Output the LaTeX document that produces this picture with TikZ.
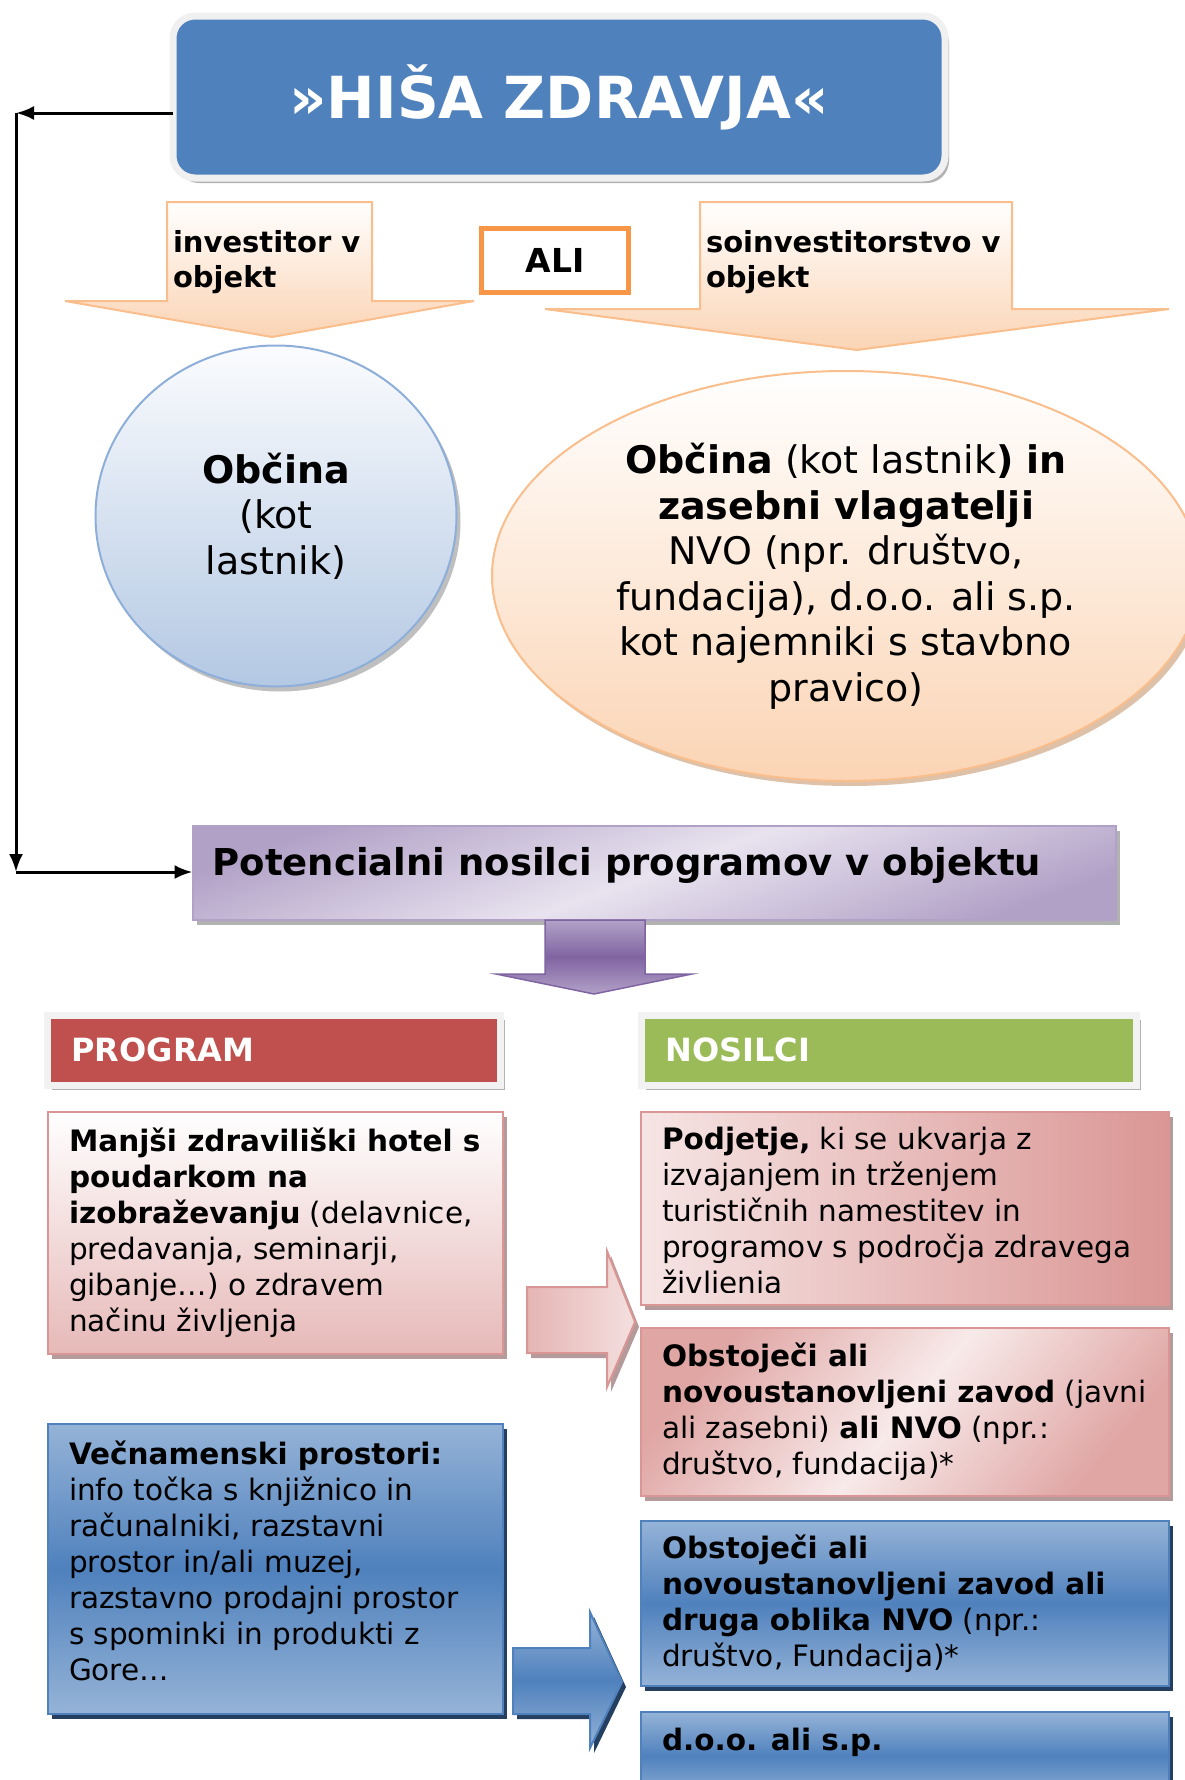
\documentclass[tikz,border=0pt]{standalone}
\usepackage{fontspec}
\setmainfont{DejaVu Sans}
\usepackage{xcolor}
\usepackage{tikz}
\usetikzlibrary{arrows.meta}
\usetikzlibrary{calc}
\usetikzlibrary{positioning}
\usetikzlibrary{shadows}
\usetikzlibrary{shapes.geometric}

\definecolor{titleblue}{HTML}{4F81BD}
\definecolor{peach}{HTML}{FBD4B4}
\definecolor{peachline}{HTML}{F9BE8C}
\definecolor{aliorange}{HTML}{F79646}
\definecolor{circtop}{HTML}{FBFCFE}
\definecolor{circbot}{HTML}{B3C8E3}
\definecolor{circline}{HTML}{8EAEDA}
\definecolor{purpledark}{HTML}{B2A1C7}
\definecolor{purplelight}{HTML}{E8E3EF}
\definecolor{purplearrow}{HTML}{8064A2}
\definecolor{progred}{HTML}{C0504D}
\definecolor{nosgreen}{HTML}{9BBB59}
\definecolor{pinkbot}{HTML}{E6B9B8}
\definecolor{pinkdark}{HTML}{DA9694}
\definecolor{pinkline}{HTML}{D99694}
\definecolor{pinkshadow}{HTML}{B49A9A}
\definecolor{bluelight}{HTML}{95B3D7}
\definecolor{blueshadow}{HTML}{243F60}

\begin{document}
\begin{tikzpicture}
[
	x = 1pt, y = -1pt,
	every node/.style = {outer sep = 0pt},
	txt/.style	= {font = \fontsize{29.5}{36}\selectfont, align = left, inner sep = 0pt},
	bigtxt/.style	= {font = \fontsize{38}{45.5}\selectfont, align = center, inner sep = 0pt},
	shade/.style	= {drop shadow = {shadow xshift = 4pt, shadow yshift = -5pt, fill = #1, opacity = 1}},
	titlebox/.style	= {rectangle, rounded corners = 22pt, fill = titleblue, draw = black!6, line width = 7pt, minimum width = 772pt, minimum height = 162pt, shade = black!30, text = white, font = \fontsize{58}{58}\selectfont\bfseries},
	downarrow/.style = {draw = peachline, line width = 2pt, top color = white, bottom color = peach},
	alibox/.style	= {rectangle, draw = aliorange, line width = 5pt, fill = white, minimum width = 147pt, minimum height = 64pt, font = \fontsize{33}{36}\selectfont\bfseries},
	circ/.style	= {ellipse, draw = circline, line width = 2pt, top color = circtop, bottom color = circbot, inner sep = 0pt, shade = black!25, bigtxt},
	ell/.style	= {ellipse, draw = peachline, line width = 2pt, top color = white, bottom color = peach, inner sep = 0pt, shade = peachline!80!black!60, bigtxt},
	potbox/.style	= {rectangle, draw = purpledark, line width = 2pt, top color = purpledark, bottom color = purpledark, middle color = purplelight, shading angle = 20, shade = black!30},
	head/.style	= {rectangle, draw = black!5, line width = 7pt, minimum height = 70pt, shade = black!30},
	headtxt/.style	= {txt, text = white, font = \fontsize{32}{36}\selectfont\bfseries},
	pinkbox/.style	= {rectangle, draw = pinkline, line width = 2pt, top color = white, bottom color = pinkbot, shade = pinkshadow},
	pinkdiag/.style	= {pinkbox, left color = pinkdark!25, right color = pinkdark},
	pinkmid/.style	= {pinkbox, top color = pinkdark!85, bottom color = pinkdark!85, middle color = pinkdark!20, shading angle = 50},
	bluebox/.style	= {rectangle, draw = titleblue, line width = 2pt, top color = bluelight, bottom color = bluelight, middle color = titleblue, shade = blueshadow},
	link/.style	= {-{Latex[length = 18pt, width = 14pt]}, line width = 3pt},
]

	\useasboundingbox (0,0) rectangle (1185,1780);

	% top
	\node (title) [titlebox] at (559,97) {»HIŠA ZDRAVJA«};

	\draw [downarrow] (167,202) -- (372,202) -- (372,301) -- (474,301) -- (272,337) -- (65,301) -- (167,301) -- cycle;
	\draw [downarrow] (700,202) -- (1012,202) -- (1012,309) -- (1169,309) -- (857,350) -- (545,309) -- (700,309) -- cycle;
	\node (inv) [txt, font = \fontsize{29}{35}\selectfont\bfseries, anchor = north west] at (173,230) {investitor v\\objekt};
	\node (soinv) [txt, font = \fontsize{29}{35}\selectfont\bfseries, anchor = north west] at (706,230) {soinvestitorstvo v\\objekt};
	\node (ali) [alibox] at (555,260) {ALI};

	\node (obcina) [circ, minimum width = 361pt, minimum height = 341pt] at (276,516) {\textbf{Občina}\\(kot\\lastnik)};
	\node (skupaj) [ell, minimum width = 708pt, minimum height = 410pt] at (846,576) {\textbf{Občina} (kot lastnik\textbf{) in}\\\textbf{zasebni vlagatelji}\\NVO (npr. društvo,\\fundacija), d.o.o. ali s.p.\\kot najemniki s stavbno\\pravico)};

	% middle
	\node (pot) [potbox, minimum width = 923pt, minimum height = 94pt] at (654,873) {};
	\node (pottxt) [txt, font = \fontsize{37}{40}\selectfont\bfseries, right = 20pt of pot.west, yshift = 8pt] {Potencialni nosilci programov v objektu};

	\coordinate (ltop) at (16,113);
	\coordinate (lbot) at (16,872);
	\draw [link] (title.west |- ltop) -- (ltop);
	\draw [link] (ltop) -- (lbot);
	\draw [link] (lbot) -- (pot.west |- lbot);

	\draw [draw = purplearrow, line width = 1.5pt, top color = purpledark, bottom color = purpledark, middle color = purplearrow] (545,920) -- (645,920) -- (645,974) -- (692,974) -- (594,994) -- (496,974) -- (545,974) -- cycle;

	% headers
	\node (program) [head, fill = progred, minimum width = 453pt] at (274,1050) {};
	\node (nosilci) [head, fill = nosgreen, minimum width = 495pt] at (889,1050) {};
	\node [headtxt, right = 24pt of program.west] {PROGRAM};
	\node [headtxt, right = 24pt of nosilci.west] {NOSILCI};

	% program
	\node (hotel) [pinkbox, minimum width = 455pt, minimum height = 242pt] at (275.5,1233) {};
	\node [txt, right = 21pt of hotel.west] {\textbf{Manjši zdraviliški hotel s}\\\textbf{poudarkom na}\\\textbf{izobraževanju} (delavnice,\\predavanja, seminarji,\\gibanje…) o zdravem\\načinu življenja};

	\node (prostori) [bluebox, minimum width = 455pt, minimum height = 290pt] at (275.5,1569) {};
	\node [txt, right = 21pt of prostori.west, yshift = 8pt] {\textbf{Večnamenski prostori:}\\info točka s knjižnico in\\računalniki, razstavni\\prostor in/ali muzej,\\razstavno prodajni prostor\\s spominki in produkti z\\Gore…};

	% nosilci
	\node (podjetje) [pinkdiag, minimum width = 528pt, minimum height = 193pt] at (905,1208.5) {};
	\begin{scope}
		\clip (podjetje.north west) rectangle ($(podjetje.south east) + (0,-13)$);
		\node [txt, right = 21pt of podjetje.west, yshift = -5pt] {\textbf{Podjetje,} ki se ukvarja z\\izvajanjem in trženjem\\turističnih namestitev in\\programov s področja zdravega\\življenja};
	\end{scope}

	\node (zavod) [pinkmid, minimum width = 528pt, minimum height = 168pt] at (905,1412) {};
	\node [txt, right = 21pt of zavod.west] {\textbf{Obstoječi ali}\\\textbf{novoustanovljeni zavod} (javni\\ali zasebni) \textbf{ali NVO} (npr.:\\društvo, fundacija)*};

	\node (nvo) [bluebox, minimum width = 528pt, minimum height = 165pt] at (905,1603.5) {};
	\node [txt, right = 21pt of nvo.west] {\textbf{Obstoječi ali}\\\textbf{novoustanovljeni zavod ali}\\\textbf{druga oblika NVO} (npr.:\\društvo, Fundacija)*};

	\node (doo) [bluebox, minimum width = 528pt, minimum height = 88pt] at (905,1756) {};
	\node [txt, right = 21pt of doo.west, yshift = 14pt] {\textbf{d.o.o. ali s.p.}};

	% block arrows
	\draw [draw = pinkline, line width = 2pt, left color = pinkdark!70, right color = pinkdark!30, shade = pinkshadow] (527,1287) -- (607,1287) -- (607,1251) -- (635,1322) -- (607,1387) -- (607,1353) -- (527,1353) -- cycle;
	\draw [draw = titleblue, line width = 2pt, top color = bluelight, bottom color = bluelight, middle color = titleblue, shade = blueshadow] (513,1648) -- (590,1648) -- (590,1612) -- (622,1682) -- (590,1748) -- (590,1714) -- (513,1714) -- cycle;

\end{tikzpicture}
\end{document}
